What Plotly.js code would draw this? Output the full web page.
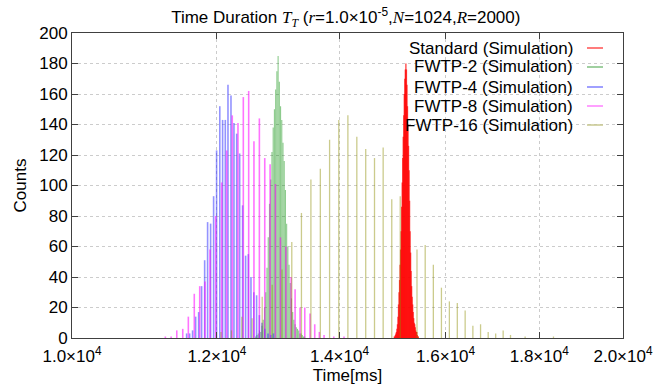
<!DOCTYPE html>
<html>
<head>
<meta charset="utf-8">
<script src="https://cdn.plot.ly/plotly-3.0.1.min.js"></script>
<style>html,body{margin:0;padding:0;background:#fff;}#chart{width:665px;height:387px;}</style>
</head>
<body>
<div id="chart"></div>
<script>
// ---- data (time in ms, counts) ----
const stdX = [15000,15010,15020,15030,15040,15050,15060,15070,15080,15090,15100,15110,15120,15130,15140,15150,15160,15170,15180,15190,15200,15210,15220,15230,15240,15250,15260,15270,15280,15290,15300,15310,15320,15330,15340,15350,15360,15370,15380,15390,15400,15410,15420,15430,15440,15450,15460];
const stdY = [1,1,2,3,4,6,9,14,22,30,38,48,58,70,86,102,118,132,146,160,170,176,180,176,166,152,140,126,110,90,70,56,44,34,27,22,17,13,10,9,7,5,4,4,2,1,1];

const f2X = [12600,12620,12640,12660,12680,12700,12720,12740,12760,12780,12800,12820,12840,12860,12880,12900,12920,12940,12960,12980,13000,13020,13040,13060,13080,13100,13120,13140,13160,13180,13200,13220,13240,13260,13280,13300,13320,13340,13360,13380,13400];
const f2Y = [1,2,3,5,4,8,12,20,30,46,66,88,104,122,138,150,163,175,185,168,152,143,128,116,97,75,60,48,36,26,17,12,9,7,6,5,3,3,2,1,1];

const f4X = [11551,11595,11638,11683,11727,11771,11816,11860,11905,11950,11995,12043,12086,12127,12168,12214,12260,12302,12348,12394,12441,12483,12525,12570,12614,12658,12700,12745,12796,12840,12883];
const f4Y = [3,3,5,14,17,34,51,76,75,93,123,152,143,143,166,159,141,134,121,87,54,55,40,30,28,15,10,6,3,2,3];

const f8X = [11246,11328,11409,11495,11576,11663,11743,11821,11896,11981,12072,12148,12234,12322,12405,12489,12572,12658,12744,12830,12916,12998,13087,13174,13240,13323,13402,13491,13571,13650,13731,13900,14080];
const f8Y = [1,1,5,6,14,29,34,37,58,80,102,123,146,141,158,162,129,144,118,114,101,66,60,40,32,20,20,16,9,4,2,1,1];

const f16X = [12061,12221,12382,12543,12703,12864,13024,13185,13346,13506,13667,13827,13988,14149,14309,14470,14631,14791,14952,15112,15434,15594,15755,15916,16076,16237,16398,16558,16719,16880,17040,17201,17361,17683,18325];
const f16Y = [4,5,14,13,27,35,45,63,82,104,111,130,143,146,132,124,118,125,91,93,58,61,48,33,24,23,18,8,9,4,3,5,2,1,1];

const names = ['Standard (Simulation)','FWTP-2 (Simulation)','FWTP-4 (Simulation)','FWTP-8 (Simulation)','FWTP-16 (Simulation)'];
const xTickVals = [10000,12000,14000,16000,18000,20000];
const xTickText = ['1.0×10<sup>4</sup>','1.2×10<sup>4</sup>','1.4×10<sup>4</sup>','1.6×10<sup>4</sup>','1.8×10<sup>4</sup>','2.0×10<sup>4</sup>'];

// ---- styles ----
const colors = ['rgba(255,0,0,0.7)','rgba(0,140,0,0.45)','rgba(40,40,255,0.5)','rgba(255,0,255,0.55)','rgba(140,140,0,0.45)'];
const widths = [1.4,1.1,1.6,1.6,1.3];
const legColors = ['#ff5050','#80c080','#8080ff','#ff80ff','#c8c890'];
const series = [[stdX,stdY],[f2X,f2Y],[f4X,f4Y],[f8X,f8Y],[f16X,f16Y]];

function impulses(xs, ys){
  const X=[],Y=[];
  for(let i=0;i<xs.length;i++){X.push(xs[i],xs[i],null);Y.push(0,ys[i],null);}
  return [X,Y];
}
const traces = series.map((s,i)=>{
  const [X,Y]=impulses(s[0],s[1]);
  return {x:X,y:Y,type:'scatter',mode:'lines',name:names[i],showlegend:false,
    line:{color:colors[i],width:widths[i]},hoverinfo:'skip',connectgaps:false};
});

const font = {family:'Liberation Sans, Arial, sans-serif', size:17, color:'#000'};
const L=72, R=623, T=33, B=338;
const pw=R-L, ph=B-T;
const ann=[], shp=[];
const rowsY=[48,67,87,106,125];
names.forEach((n,i)=>{
  const yp=(B-rowsY[i])/ph;
  ann.push({xref:'paper',yref:'paper',x:(575-L)/pw,y:yp,xanchor:'right',yanchor:'middle',
    text:n,showarrow:false,font:font});
  shp.push({type:'line',xref:'paper',yref:'paper',x0:(587-L)/pw,x1:(603-L)/pw,y0:yp,y1:yp,
    line:{color:legColors[i],width:1.5}});
});

const layout = {
  width:665,height:387,
  margin:{l:L,r:665-R,t:T,b:387-B},
  paper_bgcolor:'#fff',plot_bgcolor:'#fff',
  font:font,
  title:{text:"Time Duration <i><span style=\"font-family:'Liberation Serif'\">T<sub>T</sub></span></i> (<i><span style=\"font-family:'Liberation Serif'\">r</span></i>=1.0×10<sup>-5</sup>,<i><span style=\"font-family:'Liberation Serif'\">N</span></i>=1024,<i><span style=\"font-family:'Liberation Serif'\">R</span></i>=2000)",
    x:0.52,xanchor:'center',y:0.955,yanchor:'middle',font:{family:font.family,size:17,color:'#000'}},
  xaxis:{type:'log',range:[4,Math.log10(20000)],tickvals:xTickVals,ticktext:xTickText,
    ticks:'inside',ticklen:6,tickcolor:'#404040',mirror:'ticks',showline:true,linecolor:'#404040',linewidth:1,
    showgrid:true,gridcolor:'#cccccc',griddash:'dot',gridwidth:1,zeroline:false,ticklabelstandoff:3,
    title:{text:'Time[ms]',font:font,standoff:2},tickfont:font},
  yaxis:{range:[0,200],dtick:20,tick0:0,
    ticks:'inside',ticklen:6,tickcolor:'#404040',mirror:'ticks',showline:true,linecolor:'#404040',linewidth:1,
    showgrid:true,gridcolor:'#cccccc',griddash:'dot',gridwidth:1,zeroline:false,
    title:{text:'Counts',font:font,standoff:8},tickfont:font},
  annotations:ann,shapes:shp,showlegend:false
};
Plotly.newPlot('chart',traces,layout,{staticPlot:true,displayModeBar:false});
</script>
</body>
</html>
